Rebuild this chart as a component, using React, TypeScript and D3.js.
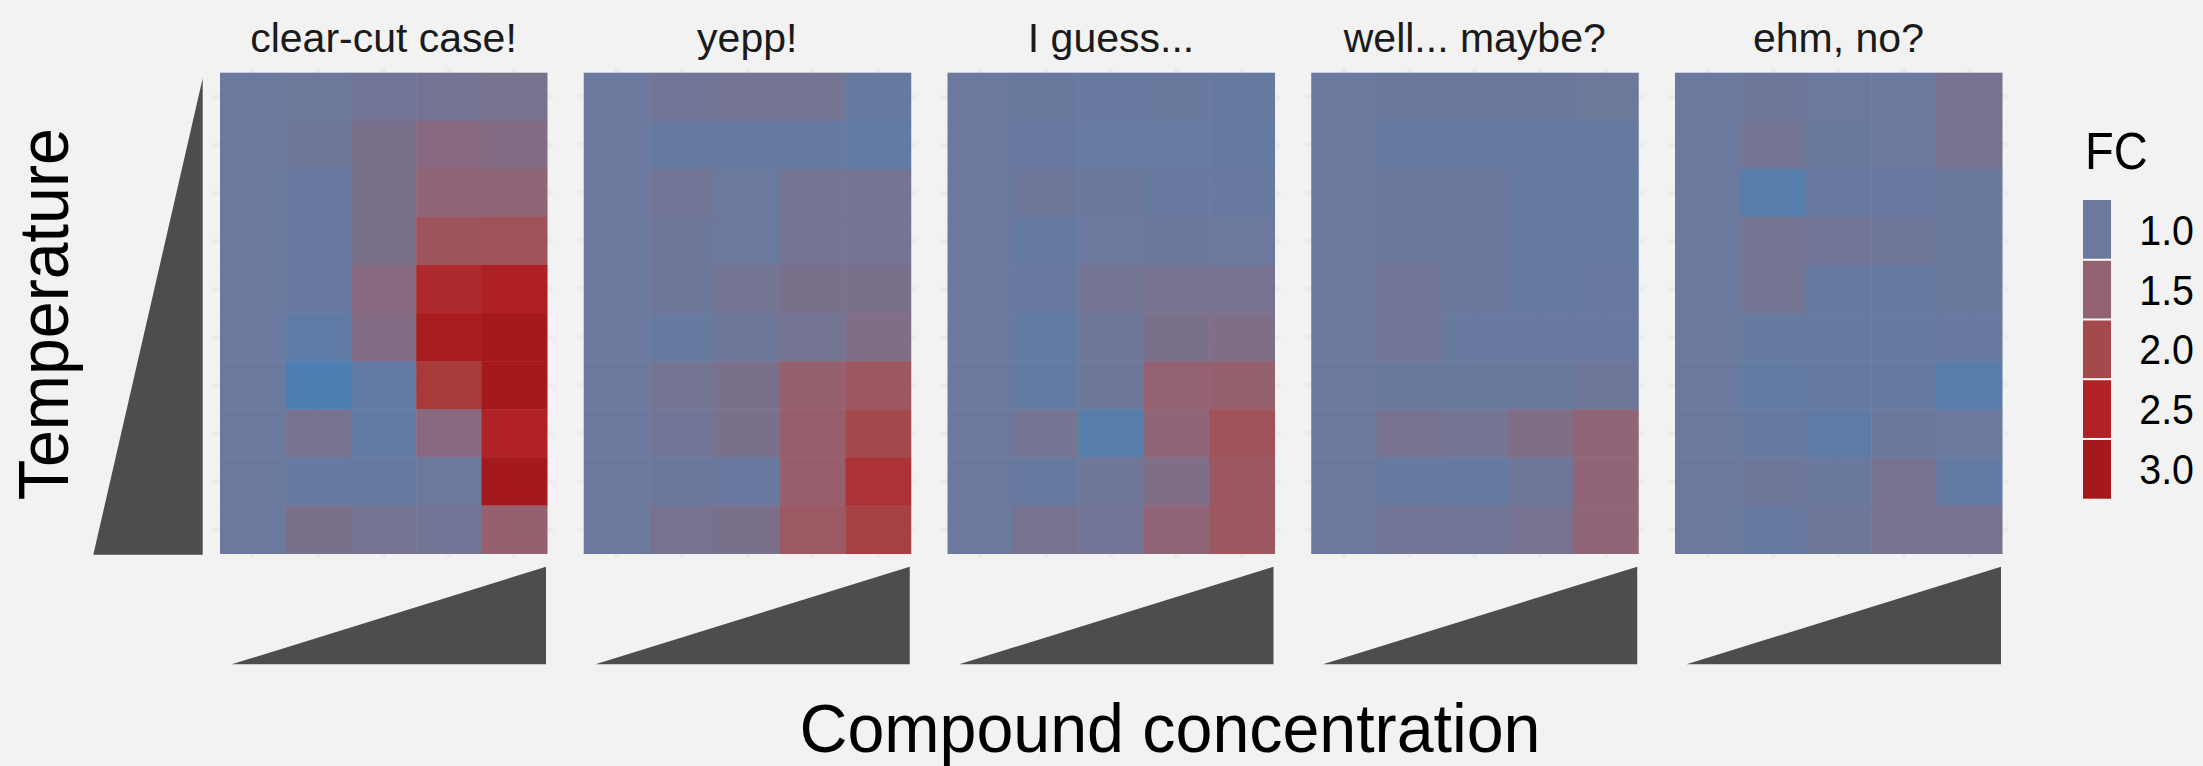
import React from "react";
import * as d3 from "d3";

// ---------- data ----------
const panelTitles = ["clear-cut case!", "yepp!", "I guess...", "well... maybe?", "ehm, no?"];
const concentrations = ["c1", "c2", "c3", "c4", "c5"];
// temperature levels listed from top (highest) to bottom (lowest)
const temperatures = ["t10", "t9", "t8", "t7", "t6", "t5", "t4", "t3", "t2", "t1"];

// FC values: rows = temperatures (top→bottom), cols = concentrations (low→high)
const fcClearCut = [
  [1.0, 1.03, 1.1, 1.13, 1.17],
  [1.0, 1.05, 1.2, 1.35, 1.3],
  [1.0, 0.97, 1.2, 1.45, 1.45],
  [1.0, 0.97, 1.2, 1.8, 1.85],
  [1.0, 0.97, 1.35, 2.4, 2.6],
  [1.0, 0.85, 1.3, 2.8, 3.0],
  [1.0, 0.6, 0.9, 2.2, 3.0],
  [1.0, 1.15, 0.9, 1.35, 2.5],
  [1.0, 0.92, 0.95, 1.0, 3.0],
  [1.0, 1.2, 1.13, 1.1, 1.55],
];
const fcYepp = [
  [1.0, 1.1, 1.12, 1.12, 0.95],
  [1.0, 0.95, 0.95, 0.95, 0.9],
  [1.0, 1.1, 1.0, 1.12, 1.12],
  [1.0, 1.05, 1.0, 1.12, 1.12],
  [1.0, 1.05, 1.12, 1.2, 1.2],
  [1.0, 0.95, 1.05, 1.12, 1.25],
  [1.0, 1.12, 1.2, 1.55, 1.75],
  [1.0, 1.1, 1.2, 1.6, 2.0],
  [1.0, 1.02, 0.97, 1.6, 2.3],
  [1.0, 1.15, 1.2, 1.7, 2.1],
];
const fcIGuess = [
  [1.0, 0.98, 0.97, 0.98, 0.95],
  [1.0, 0.97, 0.96, 0.96, 0.93],
  [1.0, 1.05, 1.02, 0.97, 0.97],
  [1.0, 0.93, 1.0, 1.02, 1.0],
  [1.0, 0.97, 1.12, 1.15, 1.15],
  [1.0, 0.88, 1.05, 1.2, 1.25],
  [1.0, 0.9, 1.05, 1.5, 1.55],
  [1.0, 1.12, 0.75, 1.45, 1.85],
  [1.0, 0.95, 1.05, 1.25, 1.75],
  [1.0, 1.15, 1.1, 1.45, 1.75],
];
const fcMaybe = [
  [1.0, 1.02, 1.02, 1.02, 1.03],
  [1.0, 0.95, 0.95, 0.95, 0.95],
  [1.0, 1.02, 1.02, 0.95, 0.93],
  [1.0, 1.02, 1.02, 0.95, 0.92],
  [1.0, 1.1, 1.02, 0.95, 0.97],
  [1.0, 1.1, 0.97, 0.97, 0.97],
  [1.0, 0.98, 0.98, 0.98, 1.05],
  [1.0, 1.15, 1.12, 1.25, 1.45],
  [1.0, 0.95, 0.93, 1.05, 1.45],
  [1.0, 1.1, 1.08, 1.15, 1.45],
];
const fcNo = [
  [1.0, 1.05, 1.0, 1.0, 1.15],
  [1.0, 1.12, 0.98, 1.0, 1.15],
  [1.0, 0.75, 0.97, 0.97, 0.98],
  [1.0, 1.12, 1.1, 1.05, 0.98],
  [1.0, 1.12, 0.95, 0.92, 0.98],
  [1.0, 0.95, 0.95, 0.95, 0.97],
  [1.0, 0.9, 0.95, 0.92, 0.75],
  [1.0, 0.95, 0.85, 1.02, 1.0],
  [1.0, 1.05, 0.98, 1.15, 0.9],
  [1.0, 0.95, 1.05, 1.15, 1.15],
];
const panelValues = [fcClearCut, fcYepp, fcIGuess, fcMaybe, fcNo];

const legendBreaks = [1.0, 1.5, 2.0, 2.5, 3.0];
const colorStops = [0.6, 1.0, 1.5, 2.0, 2.5, 3.0];
const colorRange = ["#4c7fb2", "#6a799d", "#946373", "#a44a4c", "#b02225", "#a4191b"];

// ---------- layout ----------
const W = 2203;
const H = 766;
const BG = "#f2f2f2";
const panelLeft0 = 220;
const panelStep = 363.75;
const panelW = 327;
const panelTop = 72.7;
const panelBottom = 553.5;
const gridColor = "#ebebeb";

const color = d3
  .scaleLinear<string>()
  .domain(colorStops)
  .range(colorRange)
  .interpolate(d3.interpolateRgb)
  .clamp(true);

const FONT = "'Liberation Sans', Arial, Helvetica, sans-serif";

function Panel({ idx }: { idx: number }) {
  const left = panelLeft0 + idx * panelStep;
  const right = left + panelW;
  const x = d3.scaleBand<string>().domain(concentrations).range([left, right]).padding(0);
  const y = d3.scaleBand<string>().domain(temperatures).range([panelTop, panelBottom]).padding(0);
  const values = panelValues[idx];
  const padX = x.bandwidth() * 0.1;
  const padY = y.bandwidth() * 0.095;
  const triLeft = left + 11.7;
  const triRight = right - 1;
  const triTop = 566.7;
  const triBottom = 664.3;
  return (
    <g>
      {concentrations.map((c) => (
        <line
          key={"v" + c}
          x1={x(c)! + x.bandwidth() / 2}
          x2={x(c)! + x.bandwidth() / 2}
          y1={panelTop - padY}
          y2={panelBottom + padY}
          stroke={gridColor}
          strokeWidth={4.5}
        />
      ))}
      {temperatures.map((t) => (
        <line
          key={"h" + t}
          x1={left - padX}
          x2={right + padX}
          y1={y(t)! + y.bandwidth() / 2}
          y2={y(t)! + y.bandwidth() / 2}
          stroke={gridColor}
          strokeWidth={4.5}
        />
      ))}
      {values.map((row, r) =>
        row.map((v, c) => (
          <rect
            key={r + "-" + c}
            x={x(concentrations[c])!}
            y={y(temperatures[r])!}
            width={x.bandwidth() + 0.5}
            height={y.bandwidth() + 0.5}
            fill={color(v)}
          />
        ))
      )}
      <text
        x={(left + right) / 2}
        y={51.7}
        textAnchor="middle"
        fontFamily={FONT}
        fontSize={41}
        fill="#1a1a1a"
      >
        {panelTitles[idx]}
      </text>
      <path
        d={`M${triLeft},${triBottom}L${triRight},${triBottom}L${triRight},${triTop}Z`}
        fill="#4d4d4d"
      />
    </g>
  );
}

export default function App() {
  const keyTop = 200;
  const keyH = 59.74;
  const keyX = 2083;
  const keyW = 28;
  return (
    <svg
      width={W}
      height={H}
      viewBox={`0 0 ${W} ${H}`}
      style={{ position: "absolute", left: 0, top: 0, display: "block" }}
    >
      <rect x={0} y={0} width={W} height={H} fill={BG} />
      {panelTitles.map((_, i) => (
        <Panel key={i} idx={i} />
      ))}
      {/* temperature wedge */}
      <path d="M93.3,554.7L202.7,554.7L202.7,78.3Z" fill="#4d4d4d" />
      <text
        transform="translate(68.3,314.2) rotate(-90)"
        textAnchor="middle"
        fontFamily={FONT}
        fontSize={70}
        textLength={372}
        lengthAdjust="spacingAndGlyphs"
        fill="#000"
      >
        Temperature
      </text>
      <text
        x={1170}
        y={752}
        textAnchor="middle"
        fontFamily={FONT}
        fontSize={68}
        textLength={741}
        lengthAdjust="spacingAndGlyphs"
        fill="#000"
      >
        Compound concentration
      </text>
      {/* legend */}
      <text
        x={2085}
        y={169.3}
        fontFamily={FONT}
        fontSize={51}
        textLength={62.7}
        lengthAdjust="spacingAndGlyphs"
        fill="#000"
      >
        FC
      </text>
      <rect x={keyX} y={keyTop} width={keyW} height={keyH * legendBreaks.length} fill="#ffffff" />
      {legendBreaks.map((b, i) => {
        const y0 = keyTop + i * keyH + (i > 0 ? 1 : 0);
        const y1 = keyTop + (i + 1) * keyH - (i < legendBreaks.length - 1 ? 1 : 0);
        const cy = keyTop + (i + 0.5) * keyH;
        return (
          <g key={b}>
            <rect x={keyX} y={y0} width={keyW} height={y1 - y0} fill={color(b)} />
            <text
              x={2194}
              y={cy + 15}
              textAnchor="end"
              fontFamily={FONT}
              fontSize={42}
              textLength={54.7}
              lengthAdjust="spacingAndGlyphs"
              fill="#000"
            >
              {d3.format(".1f")(b)}
            </text>
          </g>
        );
      })}
    </svg>
  );
}
